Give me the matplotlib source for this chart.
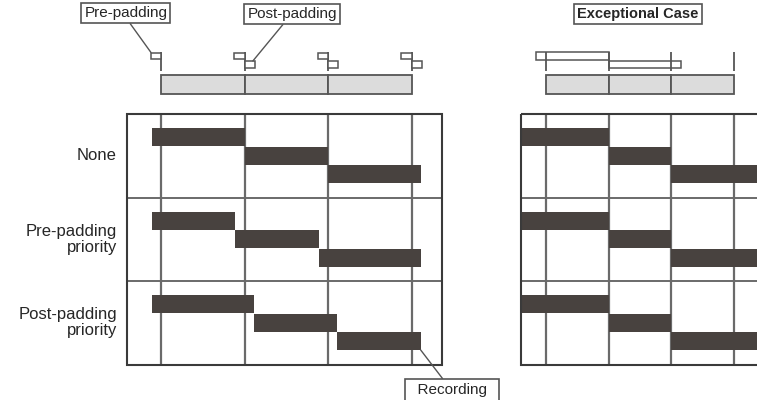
import matplotlib.pyplot as plt
from matplotlib.patches import Rectangle

plt.rcParams['font.family'] = ['Liberation Sans', 'DejaVu Sans']

# program boundaries on the time axis (one program = 1 unit)
programas = [0, 1, 2, 3]
flag_w = 0.12

row_labels = ['None', 'Pre-padding\npriority', 'Post-padding\npriority']

# recording start / end for every row (left panel)
none_start = [-0.11, 1.0, 2.0]
none_end = [1.0, 2.0, 3.11]
pre_start = [-0.11, 0.89, 1.89]
pre_end = [0.89, 1.89, 3.11]
post_start = [-0.11, 1.11, 2.11]
post_end = [1.11, 2.11, 3.11]

# exceptional case (right panel): padding longer than the neighbour program
exc_start = [-0.4, 1.0, 2.0]
exc_end = [1.0, 2.0, 3.6]
exc_pre_padding = [-0.16, 1.0]
exc_post_padding = [1.0, 2.16]

# layout (pixels from top)
W, H = 757, 400
row_top = [114, 197.5, 281]
row_h = 83.5
bar_h = 18
bar_step = 18.5
bar_off = 14

cor_barra = '#48423f'
cor_linha = '#6a6a6a'
cor_borda = '#555555'
cor_texto = '#262626'


def desenhar_painel(ax, linhas, box_left, box_right):
    box_bottom = row_top[0] + 3 * row_h
    ax.add_patch(Rectangle((box_left, row_top[0]), box_right - box_left, 3 * row_h,
                           fill=False, ec='#3a3a3a', lw=1.5, zorder=3))
    ax.hlines(row_top[1:], box_left, box_right, color=cor_linha, lw=1.4, zorder=1)
    ax.vlines(programas, row_top[0], box_bottom, color=cor_linha, lw=1.6, zorder=1)
    for i, (ini, fim) in enumerate(linhas):
        ys = [row_top[i] + bar_off + k * bar_step for k in range(len(ini))]
        larg = [f - s for s, f in zip(ini, fim)]
        ax.barh(ys, larg, left=ini, height=bar_h, align='edge', color=cor_barra, zorder=2)

    # program timeline on top
    ax.barh(75, [1] * (len(programas) - 1), left=programas[:-1], height=19, align='edge',
            color='#dcdcdc', edgecolor=cor_borda, lw=1.3, zorder=2)


fig = plt.figure(figsize=(W / 100, H / 100), dpi=100)

# left panel
ax1 = fig.add_axes([0, 0, 500 / W, 1])
ax1.set_xlim((0 - 161) / 83.5, (500 - 161) / 83.5)
ax1.set_ylim(H, 0)
ax1.axis('off')
desenhar_painel(ax1, [(none_start, none_end), (pre_start, pre_end), (post_start, post_end)],
                -0.407, 3.365)

# flags: pre-padding on the left of each boundary, post-padding on the right
ax1.vlines(programas, 52, 71, color=cor_borda, lw=1.3, zorder=3)
ax1.barh(52.5, flag_w, left=[t - flag_w for t in programas], height=6.5, align='edge',
         facecolor='white', edgecolor=cor_borda, lw=1.1, zorder=4)
ax1.barh(60.5, flag_w, left=programas[1:], height=7, align='edge',
         facecolor='white', edgecolor=cor_borda, lw=1.1, zorder=4)

for i, lab in enumerate(row_labels):
    ax1.text(-0.527, row_top[i] + row_h / 2, lab, ha='right', va='center', fontsize=12,
             linespacing=1.1, color=cor_texto)

caixa = dict(boxstyle='square,pad=0.2', fc='white', ec=cor_borda, lw=1.2)
linha = dict(arrowstyle='-', color=cor_borda, lw=1, shrinkA=0, shrinkB=0)

ax1.annotate('Pre-padding', xy=(programas[0] - flag_w, 52.5), xytext=(-0.42, 13),
             ha='center', va='center', fontsize=11, color=cor_texto, bbox=caixa,
             arrowprops=dict(linha, relpos=(0.52, 0)), zorder=5)
ax1.annotate('Post-padding', xy=(programas[1] + flag_w - 0.02, 61), xytext=(1.57, 14),
             ha='center', va='center', fontsize=11, color=cor_texto, bbox=caixa,
             arrowprops=dict(linha, relpos=(0.43, 0)), zorder=5)
ax1.annotate('  Recording  ', xy=(post_end[2], row_top[2] + bar_off + 2 * bar_step + bar_h),
             xytext=(3.485, 390), ha='center', va='center', fontsize=11, color=cor_texto,
             bbox=dict(boxstyle='square,pad=0.25', fc='white', ec=cor_borda, lw=1.2),
             arrowprops=dict(linha, relpos=(0.43, 1)), annotation_clip=False, zorder=5)

# right panel
ax2 = fig.add_axes([500 / W, 0, 257 / W, 1])
ax2.set_xlim((500 - 546) / 62.5, (W - 546) / 62.5)
ax2.set_ylim(H, 0)
ax2.axis('off')
desenhar_painel(ax2, [(exc_start, exc_end)] * 3, -0.4, 3.6)

ax2.barh(52, exc_pre_padding[1] - exc_pre_padding[0], left=exc_pre_padding[0], height=8,
         align='edge', facecolor='white', edgecolor=cor_borda, lw=1.1, zorder=3)
ax2.barh(61, exc_post_padding[1] - exc_post_padding[0], left=exc_post_padding[0], height=7,
         align='edge', facecolor='white', edgecolor=cor_borda, lw=1.1, zorder=3)
ax2.vlines(programas, 52, 71, color=cor_borda, lw=1.3, zorder=4)

ax2.text(1.472, 14, 'Exceptional Case', ha='center', va='center', fontsize=10.5,
         fontweight='bold', color=cor_texto, bbox=caixa, zorder=5)

fig.savefig('out.png', dpi=100, facecolor='white')
